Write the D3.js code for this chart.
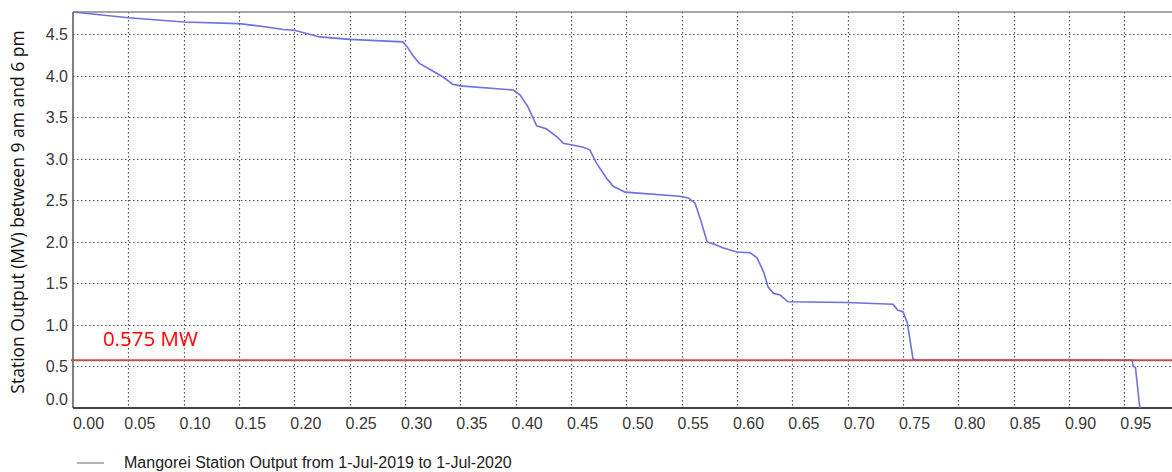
<!DOCTYPE html>
<html><head><meta charset="utf-8">
<script src="https://cdn.jsdelivr.net/npm/d3@7"></script>
<style>body{margin:0;background:#fff;}svg{display:block;}</style>
</head><body>
<svg id="c" width="1172" height="472"></svg>
<script>
const xVals = [0, 0.05, 0.10, 0.15, 0.175, 0.19, 0.20, 0.223, 0.25, 0.298, 0.302, 0.307, 0.313, 0.325, 0.334, 0.343, 0.350, 0.398, 0.404, 0.411, 0.419, 0.428, 0.437, 0.443, 0.458, 0.461, 0.467, 0.473, 0.482, 0.488, 0.499, 0.548, 0.556, 0.562, 0.567, 0.573, 0.578, 0.587, 0.600, 0.612, 0.618, 0.624, 0.628, 0.633, 0.639, 0.646, 0.699, 0.741, 0.745, 0.750, 0.754, 0.759, 0.763, 0.93, 0.957, 0.958, 0.960, 0.964];
const yVals = [4.77, 4.70, 4.65, 4.63, 4.59, 4.56, 4.55, 4.47, 4.44, 4.41, 4.35, 4.25, 4.15, 4.06, 3.99, 3.90, 3.88, 3.83, 3.77, 3.63, 3.40, 3.36, 3.27, 3.19, 3.15, 3.14, 3.11, 2.95, 2.77, 2.67, 2.60, 2.55, 2.53, 2.47, 2.27, 2.00, 1.98, 1.93, 1.88, 1.87, 1.81, 1.64, 1.46, 1.38, 1.36, 1.28, 1.27, 1.25, 1.18, 1.16, 1.02, 0.59, 0.578, 0.578, 0.575, 0.50, 0.49, 0.0];
const xTicks = [0, 0.05, 0.10, 0.15, 0.20, 0.25, 0.30, 0.35, 0.40, 0.45, 0.50, 0.55, 0.60, 0.65, 0.70, 0.75, 0.80, 0.85, 0.90, 0.95];
const yTicks = [0, 0.5, 1.0, 1.5, 2.0, 2.5, 3.0, 3.5, 4.0, 4.5];
const threshold = [0.575];
const thresholdLabel = "0.575 MW";
const yTitle = "Station Output (MV) between 9 am and 6 pm";
const legendText = "Mangorei Station Output from 1-Jul-2019 to 1-Jul-2020";

const svg = d3.select("#c");
const L = 73, T = 12, B = 408, R = 1179.7;
const x = d3.scaleLinear().domain([0, 1]).range([L, R]);
const y = d3.scaleLinear().domain([0, 4.77]).range([B, T]);

// gridlines
const grid = svg.append("g").attr("stroke", "#555").attr("stroke-width", 1.2).attr("stroke-dasharray", "1.5,2.5");
grid.selectAll("line.v").data(xTicks.filter(d => d > 0)).join("line")
  .attr("x1", d => Math.round(x(d)) + 0.5).attr("x2", d => Math.round(x(d)) + 0.5)
  .attr("y1", T).attr("y2", B);
grid.selectAll("line.h").data(yTicks.filter(d => d > 0)).join("line")
  .attr("x1", L).attr("x2", 1172)
  .attr("y1", d => Math.round(y(d)) + 0.5).attr("y2", d => Math.round(y(d)) + 0.5);

// frame
svg.append("line").attr("x1", L).attr("x2", 1172).attr("y1", T).attr("y2", T).attr("stroke", "#888").attr("stroke-width", 1.5);
svg.append("line").attr("x1", L).attr("x2", L).attr("y1", T).attr("y2", B).attr("stroke", "#555").attr("stroke-width", 1.5);
svg.append("line").attr("x1", L).attr("x2", 1172).attr("y1", B).attr("y2", B).attr("stroke", "#444").attr("stroke-width", 2);

// axes labels
const xa = svg.append("g").attr("transform", `translate(0,${B})`)
  .call(d3.axisBottom(x).tickValues(xTicks).tickSize(0).tickFormat(d3.format(".2f")));
xa.select(".domain").remove();
xa.selectAll("text").attr("font-family", "Arial, 'Liberation Sans', sans-serif").attr("font-size", 16)
  .attr("fill", "#383838").attr("dy", 0).attr("y", 21)
  .attr("dx", (d, i) => i === 0 ? 15 : 11);

const ya = svg.append("g").attr("transform", `translate(${L},0)`)
  .call(d3.axisLeft(y).tickValues(yTicks).tickSize(0).tickFormat(d3.format(".1f")));
ya.select(".domain").remove();
ya.selectAll("text").attr("font-family", "Arial, 'Liberation Sans', sans-serif").attr("font-size", 16)
  .attr("fill", "#383838").attr("x", -5).attr("dy", (d, i) => i === 0 ? "-0.2em" : "0.32em");

// data line
const pts = xVals.map((v, i) => [v, yVals[i]]);
svg.append("path").datum(pts)
  .attr("fill", "none").attr("stroke", "#6f6fe0").attr("stroke-width", 1.6)
  .attr("d", d3.line().x(d => x(d[0])).y(d => y(d[1])));

// threshold
svg.selectAll("line.th").data(threshold).join("line")
  .attr("x1", L - 2).attr("x2", 1172).attr("y1", d => y(d)).attr("y2", d => y(d))
  .attr("stroke", "#c0504d").attr("stroke-width", 2);
svg.append("text").attr("x", x(0.027)).attr("y", y(threshold[0]) - 14)
  .attr("font-family", "'Open Sans', sans-serif").attr("font-size", 20.5).attr("fill", "#ff0000")
  .text(thresholdLabel);

// y title
svg.append("text").attr("transform", `translate(24,${(T + B) / 2 + 2}) rotate(-90)`)
  .attr("text-anchor", "middle").attr("font-family", "'Open Sans', sans-serif").attr("font-size", 17.5)
  .attr("fill", "#111").text(yTitle);

// legend
svg.append("line").attr("x1", 77).attr("x2", 104).attr("y1", 463).attr("y2", 463).attr("stroke", "#999").attr("stroke-width", 1.5);
svg.append("text").attr("x", 124).attr("y", 468).attr("font-family", "Arial, 'Liberation Sans', sans-serif")
  .attr("font-size", 16).attr("fill", "#222").text(legendText);
</script>
</body></html>
